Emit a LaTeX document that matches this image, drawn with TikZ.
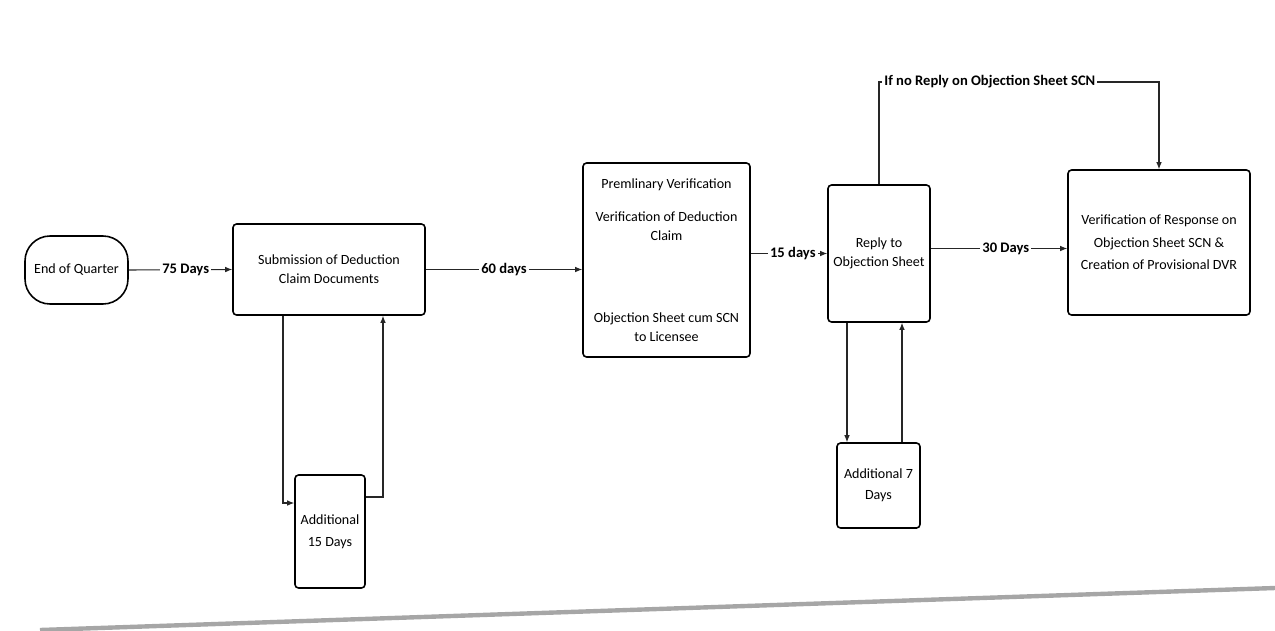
\documentclass[tikz,border=0pt]{standalone}
\usepackage{fontspec}
\setmainfont{Carlito}
\usetikzlibrary{arrows.meta,calc}
\tikzset{
  box/.style={draw=black, line width=0.9pt, rounded corners=2pt, align=center,
    inner sep=1pt, font=\fontsize{8}{10.8}\selectfont},
  conn/.style={draw=black!85, line width=0.6pt, -{Latex[length=4pt,width=3.2pt]}},
  lbl/.style={fill=white, inner sep=1.2pt, font=\fontsize{8.3}{10}\selectfont\bfseries},
}
\begin{document}
\begin{tikzpicture}[x=0.02cm,y=-0.02cm]
\useasboundingbox (0,0) rectangle (1275,630);
% nodes
\node[box, rounded corners=0.5cm, minimum width=2.06cm, minimum height=1.36cm] (eoq) at (76.5,270) {End of Quarter};
\node[box, minimum width=3.84cm, minimum height=1.82cm] (sub) at (329,269.5) {Submission of Deduction\\Claim Documents};
\node[box, minimum width=3.34cm, minimum height=3.88cm] (mid) at (666.5,260)
  {Premlinary Verification\\[8.5pt]Verification of Deduction\\Claim\\[35.7pt]Objection Sheet cum SCN\\to Licensee};
\node[box, minimum width=2.04cm, minimum height=2.74cm] (rep) at (879,253.5) {Reply to\\Objection Sheet};
\node[box, minimum width=3.64cm, minimum height=2.9cm] (ver) at (1159,242.5)
  {Verification of Response on\\[2pt]Objection Sheet SCN \&\\[2pt]Creation of Provisional DVR};
\node[box, minimum width=1.4cm, minimum height=2.26cm] (add15) at (330,531.5) {Additional\\[2pt]15 Days};
\node[box, minimum width=1.66cm, minimum height=1.7cm] (add7) at (878.5,485.5) {Additional 7\\[1pt]Days};
% main flow
\draw[conn] (eoq.east) -- node[lbl, pos=0.55] {75 Days} (sub.west);
\draw[conn] (sub.east) -- node[lbl, pos=0.5] {60 days} (sub.east -| mid.west);
\draw[conn] (rep.west -| mid.east) -- node[lbl, pos=0.55] {15 days} (rep.west);
\coordinate (r30) at ($(rep.east)+(0,-5)$);
\draw[conn] (r30) -- node[lbl, pos=0.55] {30 Days} (r30 -| ver.west);
% top loop
\coordinate (topc) at (1159,82);
\draw[conn] (rep.north) |- node[lbl, pos=0.698] {If no Reply on Objection Sheet SCN} (topc) -- (ver.north);
% additional 15 days loop
\coordinate (s1) at ($(sub.south)+(-46,0)$);
\coordinate (a1) at ($(add15.west)+(0,-28.5)$);
\draw[conn] (s1) |- (a1);
\coordinate (a2) at ($(add15.east)+(0,-34.5)$);
\coordinate (s2) at ($(sub.south)+(54,0)$);
\draw[conn] (a2) -| (s2);
% additional 7 days loop
\coordinate (d1) at ($(rep.south)+(-32,0)$);
\draw[conn] (d1) -- (d1 |- add7.north);
\coordinate (u1) at ($(rep.south)+(23,0)$);
\draw[conn] (u1 |- add7.north) -- (u1);
% scan page edge
\draw[black!35, line width=2.5pt] (40,630) -- (1275,588);
\end{tikzpicture}
\end{document}
